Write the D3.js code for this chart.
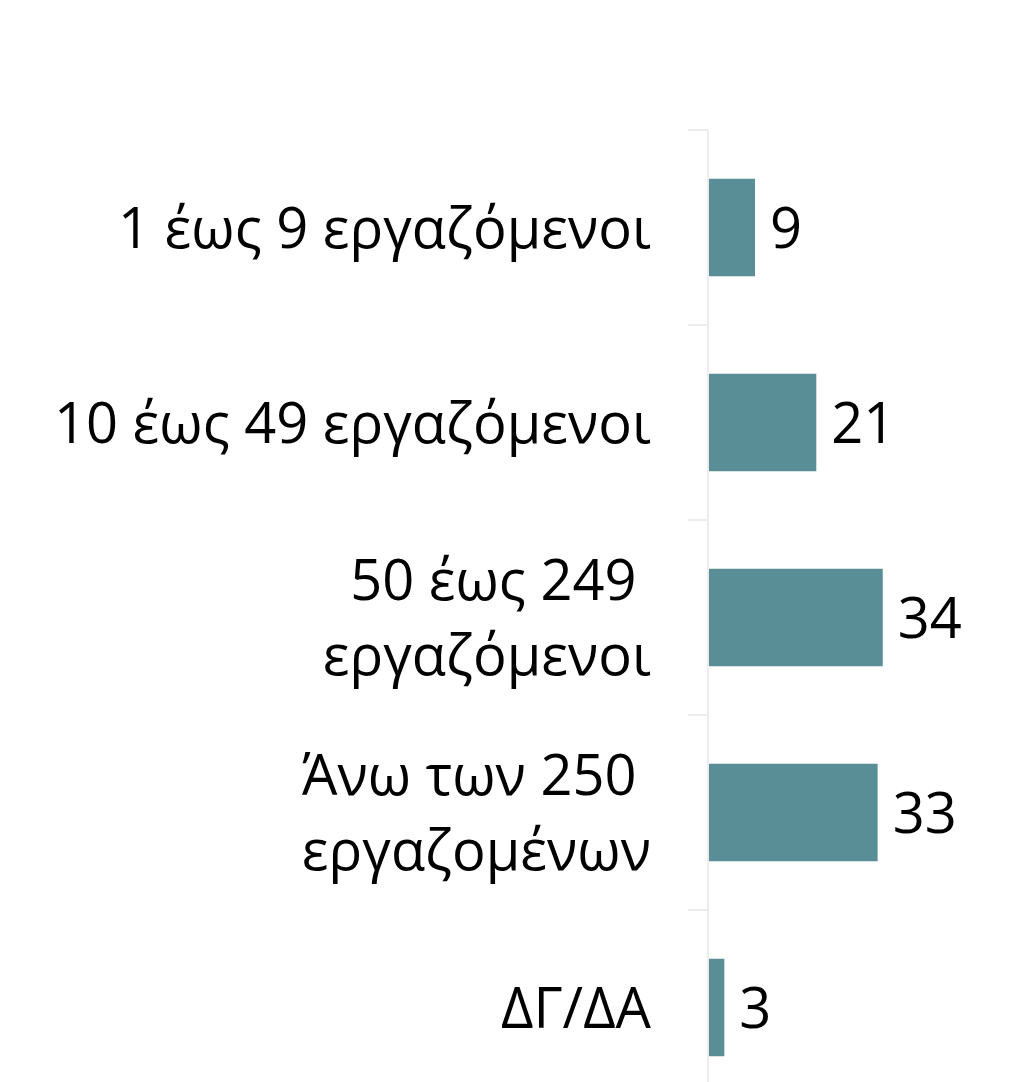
<!DOCTYPE html>
<html>
<head>
<meta charset="utf-8">
<script src="https://cdn.jsdelivr.net/npm/d3@7"></script>
<style>
  html, body { margin: 0; padding: 0; background: #ffffff; }
  svg { display: block; }
  text { font-family: "Open Sans", "Noto Sans", sans-serif; fill: #000000; white-space: pre; }
</style>
</head>
<body>
<svg id="chart" width="1025" height="1082"></svg>
<script>
// ---- data ----
const categories = ["1 έως 9 εργαζόμενοι", "10 έως 49 εργαζόμενοι", "50 έως 249 εργαζόμενοι", "Άνω των 250 εργαζομένων", "ΔΓ/ΔΑ"];
const labelLines = [["1 έως 9 εργαζόμενοι"], ["10 έως 49 εργαζόμενοι"], ["50 έως 249 ", "εργαζόμενοι"], ["Άνω των 250 ", "εργαζομένων"], ["ΔΓ/ΔΑ"]];
const values = [9, 21, 34, 33, 3];

// ---- layout ----
const svg = d3.select("#chart");
const axisX = 708;
const plotTop = 130;
const step = 195;
const fontSize = 56;
const lineGap = 75;

const y = d3.scaleBand()
  .domain(categories)
  .range([plotTop, plotTop + step * categories.length])
  .paddingInner(0.5)
  .paddingOuter(0.25);

const x = d3.scaleLinear()
  .domain([0, 40])
  .range([axisX + 1, axisX + 1 + 40 * 5.11]);

const half = (y.step() - y.bandwidth()) / 2;

// axis line
svg.append("line")
  .attr("x1", axisX).attr("x2", axisX)
  .attr("y1", plotTop).attr("y2", plotTop + step * categories.length)
  .attr("stroke", "#ececec").attr("stroke-width", 2);

// tick marks at band boundaries
const bounds = categories.map(c => y(c) - half);
svg.selectAll("line.tick")
  .data(bounds)
  .enter().append("line")
  .attr("class", "tick")
  .attr("x1", axisX - 20).attr("x2", axisX)
  .attr("y1", d => d).attr("y2", d => d)
  .attr("stroke", "#ececec").attr("stroke-width", 2);

// bars
svg.selectAll("rect.bar")
  .data(values)
  .enter().append("rect")
  .attr("class", "bar")
  .attr("x", x(0))
  .attr("y", (d, i) => y(categories[i]))
  .attr("width", d => x(d) - x(0))
  .attr("height", y.bandwidth())
  .attr("fill", "#5a8e97");

// value labels
svg.selectAll("text.val")
  .data(values)
  .enter().append("text")
  .attr("class", "val")
  .attr("x", d => x(d) + 15)
  .attr("y", (d, i) => y(categories[i]) + y.bandwidth() / 2 + 20)
  .attr("font-size", fontSize)
  .text(d => d);

// category labels
categories.forEach((c, i) => {
  const lines = labelLines[i];
  const cy = y(c) + y.bandwidth() / 2;
  const t = svg.append("text")
    .attr("class", "cat")
    .attr("text-anchor", "end")
    .attr("font-size", fontSize);
  lines.forEach((ln, j) => {
    t.append("tspan")
      .attr("x", 651)
      .attr("y", cy + 20 + (j - (lines.length - 1) / 2) * lineGap)
      .text(ln);
  });
});
</script>
</body>
</html>
